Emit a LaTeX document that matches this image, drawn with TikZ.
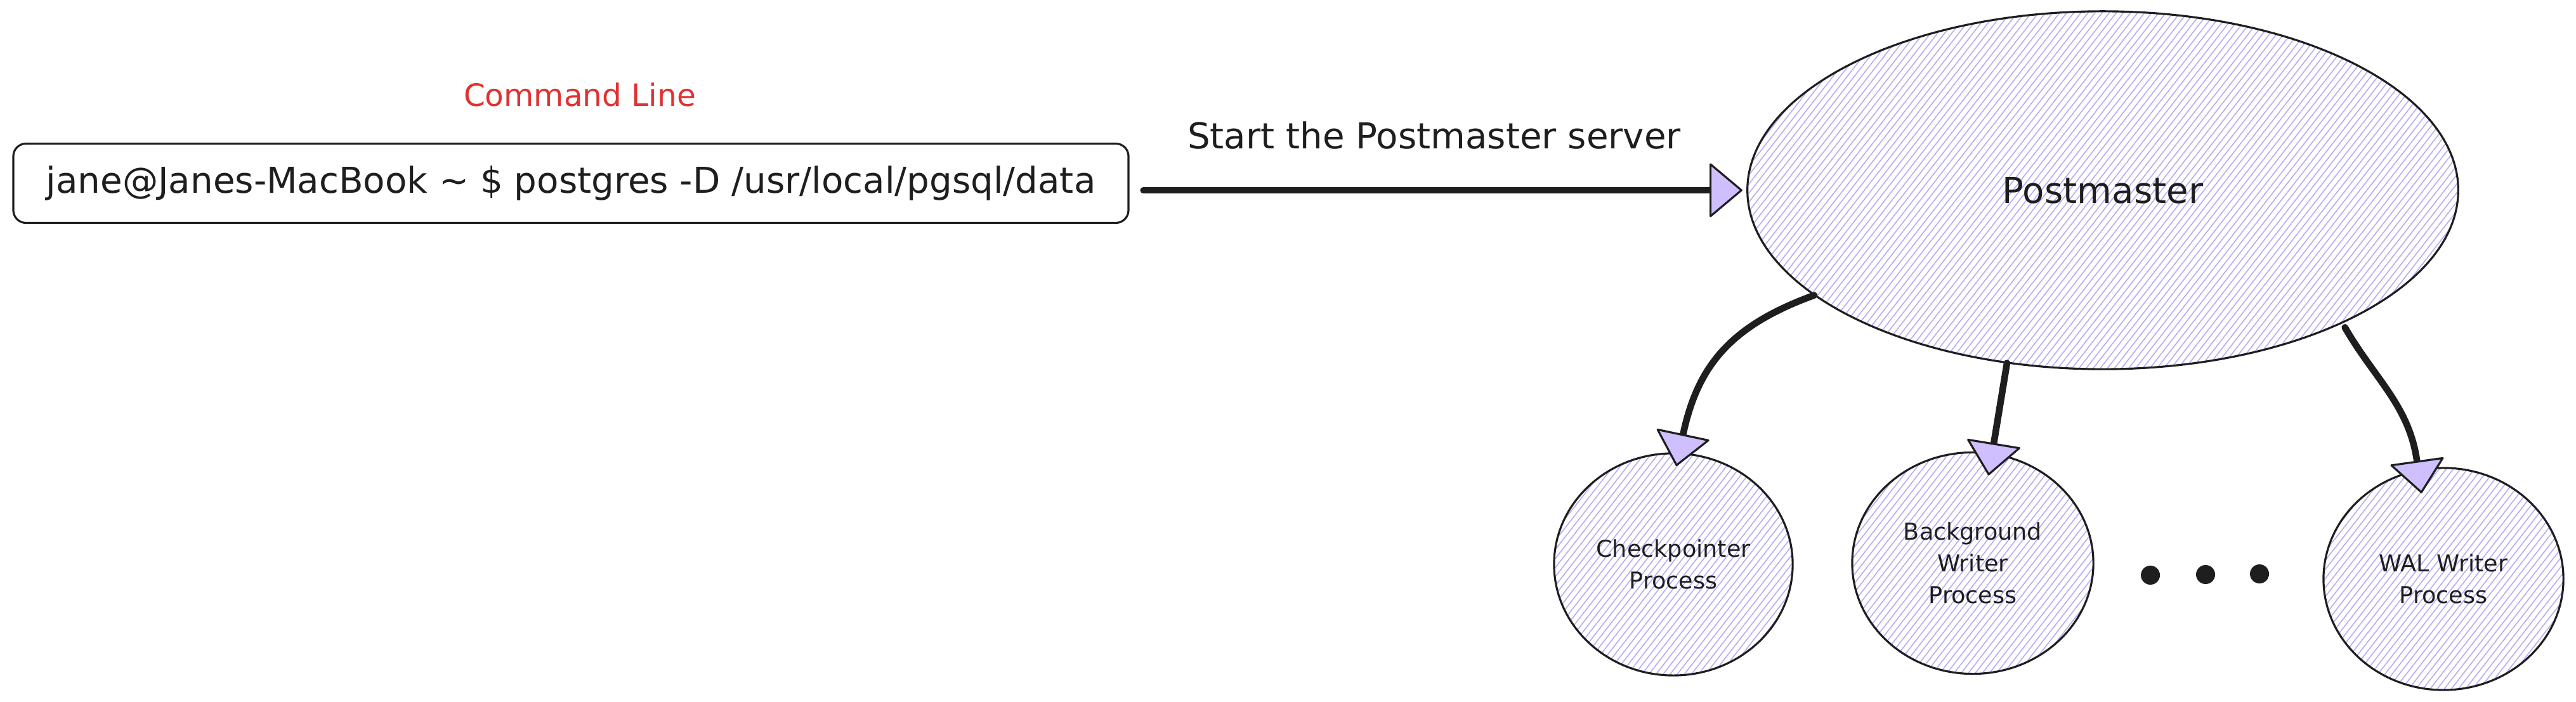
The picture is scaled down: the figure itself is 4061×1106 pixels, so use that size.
\documentclass[tikz,border=0pt]{standalone}
\usepackage{fontspec}
\setmainfont{DejaVu Sans}
\usetikzlibrary{arrows.meta,shapes.geometric,patterns.meta}
\definecolor{ink}{HTML}{1E1E1E}
\definecolor{tipfill}{HTML}{D0BFFF}
\definecolor{hatch}{HTML}{B4ABF6}
\definecolor{redlabel}{HTML}{E03131}
\begin{document}
\begin{tikzpicture}[x=0.01cm,y=0.01cm,
  txt/.style={font=\fontsize{16}{19}\selectfont, text=ink},
  small/.style={font=\fontsize{10.4}{14.2}\selectfont, text=ink, align=center},
  blob/.style={ellipse, draw=ink, line width=0.9pt, inner sep=0pt,
    pattern={Lines[angle=52,distance=2.5pt,line width=0.45pt]}, pattern color=hatch},
  conn/.style={draw=ink, line width=3pt, line cap=round,
    -{Triangle[length=15pt,width=25pt,fill=tipfill,line width=0.9pt,round]}},
  dotnode/.style={circle, fill=ink, minimum size=0.3cm, inner sep=0pt}
]
\useasboundingbox (0,0) rectangle (4061,1106);
\node[draw=ink, line width=0.9pt, rounded corners=0.2cm, minimum width=17.57cm,
  minimum height=1.25cm, txt, fill=white] (cmd) at (900,817)
  {jane@Janes-MacBook \textasciitilde{} \$ postgres -D /usr/local/pgsql/data};
\node[font=\fontsize{13.8}{16}\selectfont, text=redlabel, anchor=base] (cl) at (914,938) {Command Line};
\node[txt, anchor=base] (lbl) at (2261,871) {Start the Postmaster server};
\node[blob, minimum width=11.2cm, minimum height=5.64cm, txt] (pm) at (3315,806) {Postmaster};
\node[blob, minimum width=3.76cm, minimum height=3.5cm, small] (cp) at (2638,216) {Checkpointer\\Process};
\node[blob, minimum width=3.8cm, minimum height=3.49cm, small] (bg) at (3110,218) {Background\\Writer\\Process};
\node[blob, minimum width=3.78cm, minimum height=3.5cm, small] (wal) at (3852,193) {WAL Writer\\Process};
\node[dotnode] (d1) at (3390,199) {};
\node[dotnode] (d2) at (3477,200) {};
\node[dotnode] (d3) at (3562,201) {};
\draw[conn, shorten <=0.22cm, shorten >=0.07cm] (cmd.east |- pm.west) -- (pm.west);
\draw[conn, shorten >=-0.22cm] (pm.200) to[out=200,in=78,looseness=1.1] (cp.87);
\draw[conn, shorten >=-0.36cm] (pm.241) -- (bg.80);
\draw[conn, shorten <=0.08cm, shorten >=-0.38cm] (pm.331) to[out=300,in=98] (wal.103);
\end{tikzpicture}
\end{document}
